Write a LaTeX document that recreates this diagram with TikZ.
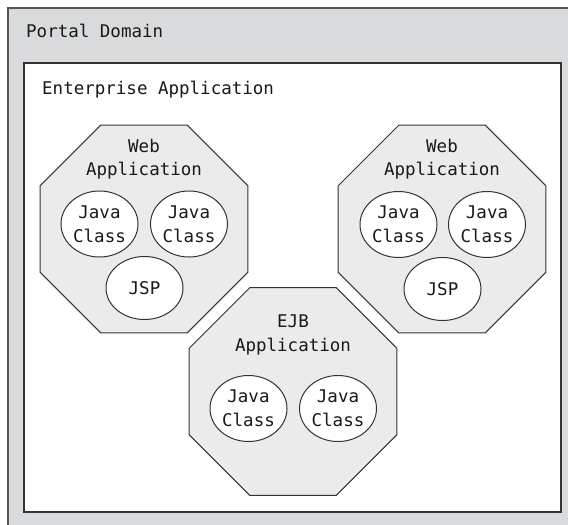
\documentclass[tikz,border=0pt]{standalone}
\usepackage{fontspec}
\usetikzlibrary{shapes.geometric}
\newfontfamily\diagfont{DejaVu Sans Mono}

\definecolor{domaingray}{HTML}{D9DADB}
\definecolor{appgray}{HTML}{EBEBEC}
\definecolor{edgegray}{HTML}{333333}
\definecolor{frameedge}{HTML}{555555}

\tikzset{
  labeltext/.style={font=\diagfont\fontsize{17.5}{23}\selectfont, inner sep=0pt, text=black!90},
  appbox/.style={regular polygon, regular polygon sides=8, minimum size=225.1pt,
    inner sep=0pt, outer sep=0pt, draw=edgegray, line width=1pt, fill=appgray},
  partbox/.style={ellipse, draw=edgegray, line width=1pt, fill=white, inner sep=0pt,
    minimum width=77pt, minimum height=66pt, align=center,
    font=\diagfont\fontsize{17.5}{24}\selectfont, text=black!90},
  jspbox/.style={partbox, minimum height=63pt},
}

\begin{document}
\begin{tikzpicture}[x=1pt,y=-1pt]
\useasboundingbox (0,0) rectangle (568,525);
\clip (0,0) rectangle (568,525);
\fill[white] (0,0) rectangle (568,525);

% portal domain frame (runs off the right and bottom edges)
\draw[fill=domaingray, draw=frameedge, line width=2.2pt] (8,8) rectangle (600,560);
\node[labeltext, anchor=base west] (domainlabel) at (26,37) {Portal Domain};

% enterprise application frame
\draw[fill=white, draw=edgegray, line width=1.6pt] (24,63) rectangle (561,512);
\node[labeltext, anchor=base west] (entlabel) at (42,94) {Enterprise Application};

% left web application
\node[appbox] (webL) at (144,229) {};
\node[labeltext, anchor=base] (webLt1) at (144,152) {Web};
\node[labeltext, anchor=base] (webLt2) at (144,175) {Application};
\node[partbox] (webLc1) at (99.5,224) {Java\\Class};
\node[partbox] (webLc2) at (189,224) {Java\\Class};
\node[jspbox] (webLjsp) at (144.5,288) {JSP};

% right web application
\node[appbox] (webR) at (442,229) {};
\node[labeltext, anchor=base] (webRt1) at (442,152) {Web};
\node[labeltext, anchor=base] (webRt2) at (442,175) {Application};
\node[partbox] (webRc1) at (398.5,224.5) {Java\\Class};
\node[partbox] (webRc2) at (487,224.5) {Java\\Class};
\node[jspbox] (webRjsp) at (442.5,289) {JSP};

% EJB application
\node[appbox] (ejb) at (293,391.5) {};
\node[labeltext, anchor=base] (ejbt1) at (293,327) {EJB};
\node[labeltext, anchor=base] (ejbt2) at (293,351) {Application};
\node[partbox] (ejbc1) at (248.5,408.5) {Java\\Class};
\node[partbox] (ejbc2) at (338,408.5) {Java\\Class};
\end{tikzpicture}
\end{document}
